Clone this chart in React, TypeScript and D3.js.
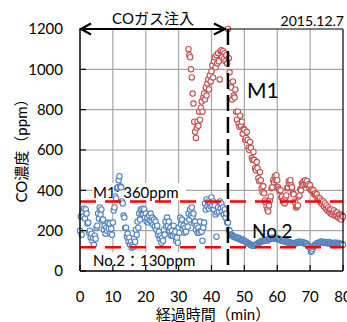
import React from 'react';
import * as d3 from 'd3';

const xTicks = [0, 10, 20, 30, 40, 50, 60, 70, 80];
const yTicks = [0, 200, 400, 600, 800, 1000, 1200];

// No.2 (blue), sampled every 0.25 min from t = 0
const no2Start = 0;
const no2Step = 0.25;
const no2Values = [
  200, 270, 180, 290,
  270, 310, 260, 305,
  285, 235, 240, 190,
  200, 165, 185, 150,
  165, 130, 175, 160,
  215, 225, 285, 260,
  315, 280, 305, 250,
  255, 205, 225, 185,
  215, 200, 240, 210,
  235, 185, 210, 180,
  240, 300, 315, 370,
  360, 410, 415, 450,
  470, 420, 415, 345,
  335, 275, 265, 215,
  215, 170, 185, 145,
  165, 130, 145, 115,
  130, 120, 160, 145,
  205, 180, 245, 215,
  285, 255, 305, 280,
  310, 280, 305, 265,
  285, 245, 265, 240,
  275, 250, 285, 245,
  265, 230, 255, 220,
  245, 205, 225, 180,
  195, 160, 175, 140,
  165, 150, 205, 180,
  245, 220, 265, 225,
  245, 200, 215, 175,
  200, 175, 225, 185,
  195, 150, 165, 140,
  215, 190, 265, 230,
  255, 210, 225, 190,
  215, 195, 245, 220,
  285, 255, 305, 275,
  315, 270, 285, 235,
  245, 205, 225, 190,
  215, 190, 245, 200,
  195, 150, 215, 240,
  335, 305, 355, 320,
  345, 310, 335, 320,
  365, 325, 345, 305,
  325, 280, 170, 290,
  315, 295, 345, 310,
  335, 295, 315, 280,
  305, 265, 285, 240,
  240, 205, 200, 180,
  180, 178, 172, 170,
  170, 166, 168, 162,
  165, 160, 162, 156,
  158, 153, 156, 150,
  150, 146, 145, 140,
  140, 136, 135, 130,
  130, 126, 125, 127,
  125, 129, 130, 134,
  135, 139, 140, 144,
  145, 149, 150, 147,
  150, 153, 150, 155,
  150, 156, 158, 162,
  160, 164, 165, 161,
  165, 161, 160, 164,
  160, 156, 155, 158,
  155, 150, 150, 153,
  150, 145, 145, 149,
  145, 140, 140, 144,
  140, 136, 135, 138,
  135, 139, 140, 136,
  140, 144, 145, 141,
  145, 141, 140, 144,
  140, 136, 135, 138,
  135, 128, 125, 118,
  115, 95, 100, 110,
  120, 126, 130, 134,
  135, 139, 140, 136,
  140, 145, 145, 141,
  145, 140, 140, 144,
  140, 136, 140, 144,
  140, 135, 135, 139,
  135, 139, 140, 136,
  140, 135, 135, 139,
  135, 131, 130, 134,
  130,
];

// M1 (red), sampled every 0.25 min from t = 33
const m1Start = 33;
const m1Step = 0.25;
const m1Values = [
  1100, 1070, 1060, 1000,
  960, 880, 830, 740,
  690, 660, 710, 740,
  720, 790, 750, 810,
  840, 790, 860, 880,
  850, 910, 870, 930,
  950, 900, 970, 940,
  990, 1020, 960, 1040,
  1060, 1010, 1070, 1030,
  1080, 1040, 950, 1090,
  1095, 1060, 1090, 1050,
  1080, 1040, 1070, 1030,
  1200, 1055, 985, 930,
  910, 850, 940, 870,
  860, 900, 790, 750,
  790, 730, 715, 770,
  720, 740, 680, 705,
  700, 650, 660, 690,
  650, 610, 600, 640,
  610, 560, 550, 590,
  550, 510, 500, 540,
  510, 460, 445, 490,
  450, 410, 390, 420,
  385, 350, 340, 320,
  305, 295, 325, 350,
  370, 410, 415, 450,
  440, 470, 450, 475,
  450, 415, 405, 395,
  400, 365, 370, 345,
  350, 335, 365, 375,
  410, 415, 445, 430,
  450, 425, 415, 385,
  380, 345, 340, 315,
  320, 325, 370, 375,
  405, 400, 435, 425,
  445, 430, 450, 435,
  445, 425, 430, 410,
  425, 400, 405, 395,
  400, 380, 385, 375,
  380, 360, 365, 355,
  360, 340, 350, 330,
  345, 320, 335, 310,
  325, 300, 315, 295,
  305, 285, 305, 280,
  290, 300, 275, 290,
  275, 290, 265, 280,
  260, 280, 255, 275,
  270,
];

const m1Level = 345;
const no2Level = 118;
const injectionEnd = 45;

const FONT = "Lato, 'Noto Sans CJK JP', sans-serif";
const RED = '#C0504D';
const BLUE = '#4F81BD';

export default function App() {
  const W = 347, H = 322;
  const x = d3.scaleLinear().domain([0, 80]).range([80, 343]);
  const y = d3.scaleLinear().domain([0, 1200]).range([271, 29]);
  const [x0, x1] = x.range();
  const [y0, y1] = y.range();

  const no2 = no2Values.map((v, i) => ({ t: no2Start + i * no2Step, v }));
  const m1 = m1Values.map((v, i) => ({ t: m1Start + i * m1Step, v }));

  const xi = x(injectionEnd);

  return (
    <svg width={W} height={H} style={{ position: 'absolute', left: 0, top: 0, background: '#fff' }} fontFamily={FONT}>
      {/* gridlines */}
      {yTicks.filter(t => t > 0 && t < 1200).map(t => (
        <line key={'gy' + t} x1={x0} x2={x1} y1={y(t)} y2={y(t)} stroke="#a6a6a6" strokeWidth={1.2} />
      ))}
      {xTicks.filter(t => t > 0 && t < 80).map(t => (
        <line key={'gx' + t} x1={x(t)} x2={x(t)} y1={y0} y2={y1} stroke="#a6a6a6" strokeWidth={1.2} />
      ))}
      {/* level labels */}
      <rect x={92} y={183} width={94} height={17} fill="#fff" />
      <text x={93} y={198} fontSize={15} fill="#000">M1: 360ppm</text>
      <rect x={92} y={252} width={94} height={17} fill="#fff" />
      <text x={93} y={266} fontSize={15} fill="#000">No.2：130ppm</text>

      {/* series */}
      {no2.map((d, i) => (
        <circle key={'b' + i} cx={x(d.t)} cy={y(d.v)} r={2.7} fill="#fff" stroke={BLUE} strokeWidth={1.1} />
      ))}
      {m1.map((d, i) => (
        <circle key={'r' + i} cx={x(d.t)} cy={y(d.v)} r={2.7} fill="#fff" stroke={RED} strokeWidth={1.1} />
      ))}

      {/* reference lines */}
      <line x1={x0} x2={x1} y1={y(m1Level)} y2={y(m1Level)} stroke="#FF0000" strokeWidth={2.5} strokeDasharray="16 9" />
      <line x1={x0} x2={x1} y1={y(no2Level)} y2={y(no2Level)} stroke="#FF0000" strokeWidth={2.5} strokeDasharray="16 9" />

      {/* axes / border */}
      <line x1={x0} x2={x1} y1={y0} y2={y0} stroke="#000" strokeWidth={1.5} />
      <line x1={x0} x2={x0} y1={y0} y2={y1} stroke="#000" strokeWidth={1.5} />
      <line x1={x1} x2={x1} y1={y0} y2={y1} stroke="#000" strokeWidth={1.2} />
      <line x1={xi} x2={x1} y1={y1} y2={y1} stroke="#000" strokeWidth={1.2} />
      {yTicks.map(t => (
        <line key={'ty' + t} x1={x0} x2={x0 + 6} y1={y(t)} y2={y(t)} stroke="#000" strokeWidth={1.2} />
      ))}
      {xTicks.map(t => (
        <line key={'tx' + t} x1={x(t)} x2={x(t)} y1={y0} y2={y0 - 6} stroke="#000" strokeWidth={1.2} />
      ))}

      {/* injection end dashed line */}
      <line x1={xi} x2={xi} y1={y1} y2={y0} stroke="#000" strokeWidth={2.5} strokeDasharray="16 6" />

      {/* arrow */}
      <line x1={x0} x2={xi - 2} y1={y1} y2={y1} stroke="#000" strokeWidth={2.2} />
      <polyline points={`${x0 + 11},${y1 - 5.5} ${x0 + 1},${y1} ${x0 + 11},${y1 + 5.5}`} fill="none" stroke="#000" strokeWidth={2.2} />
      <polyline points={`${xi - 14},${y1 - 5.5} ${xi - 3},${y1} ${xi - 14},${y1 + 5.5}`} fill="none" stroke="#000" strokeWidth={2.2} />

      {/* tick labels */}
      {yTicks.map(t => (
        <text key={'ly' + t} x={63} y={y(t)} dy="0.35em" textAnchor="end" fontSize={15}>{t}</text>
      ))}
      {xTicks.map(t => (
        <text key={'lx' + t} x={x(t)} y={297} dy="0.35em" textAnchor="middle" fontSize={15}>{t}</text>
      ))}

      {/* titles and annotations */}
      <text x={213} y={320} textAnchor="middle" fontSize={15}>経過時間（min）</text>
      <text transform={`translate(27,147) rotate(-90)`} textAnchor="middle" fontSize={15}>CO濃度（ppm）</text>
      <text x={153} y={24} textAnchor="middle" fontSize={15}>COガス注入</text>
      <text x={344} y={26} textAnchor="end" fontSize={14}>2015.12.7</text>
      <text x={247} y={98} fontSize={21}>M1</text>
      <text x={252} y={238} fontSize={19}>No.2</text>
    </svg>
  );
}
